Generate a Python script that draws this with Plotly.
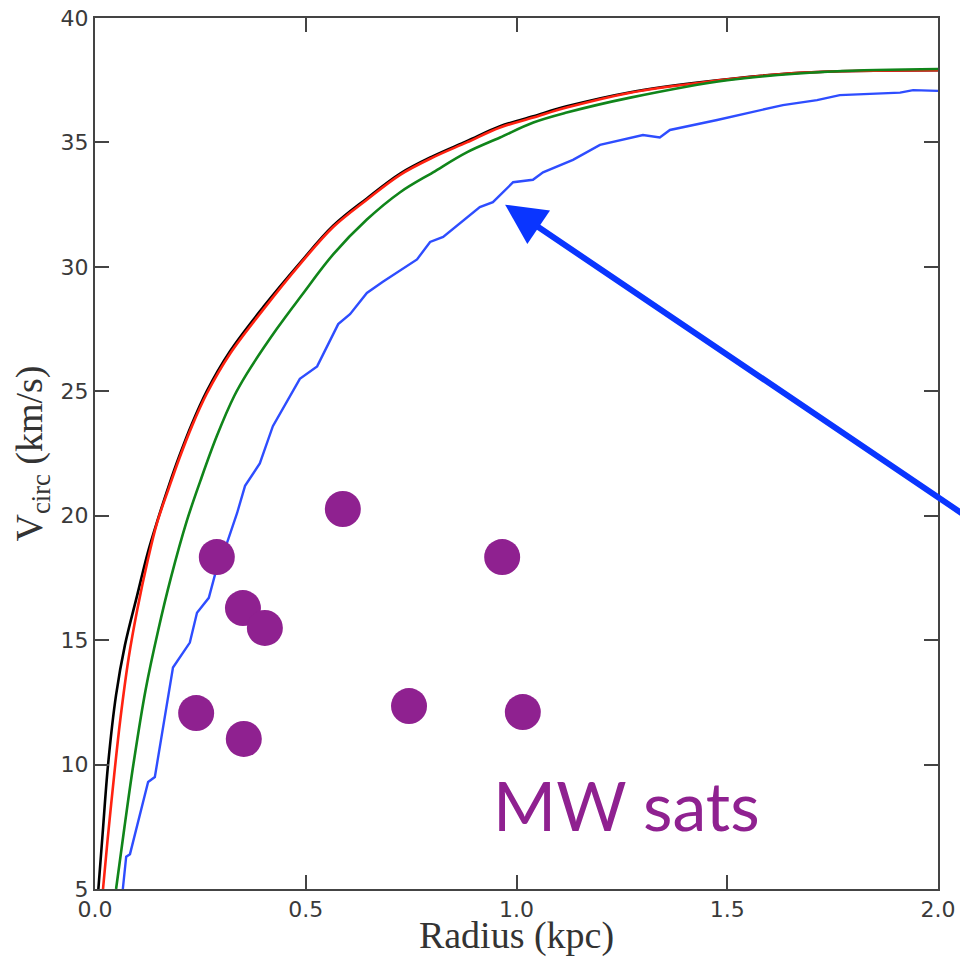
import plotly.graph_objects as go

# ---- data ----
black_r = [0.008, 0.018, 0.031, 0.05, 0.071, 0.1, 0.125, 0.15, 0.175, 0.2, 0.23, 0.265, 0.32, 0.4, 0.486,
           0.565, 0.645, 0.724, 0.802, 0.882, 0.961, 1.04, 1.119, 1.27, 1.435, 1.673, 2.0]
black_v = [5.0, 7.2, 10.0, 12.8, 14.8, 16.8, 18.5, 19.9, 21.2, 22.4, 23.7, 25.0, 26.6, 28.4, 30.15,
           31.65, 32.75, 33.75, 34.45, 35.05, 35.65, 36.05, 36.45, 37.02, 37.42, 37.8, 37.9]

red_r = [0.019, 0.03, 0.045, 0.06, 0.08, 0.1, 0.125, 0.147, 0.175, 0.2, 0.23, 0.265, 0.32, 0.4, 0.486,
         0.565, 0.645, 0.724, 0.802, 0.882, 0.961, 1.04, 1.119, 1.27, 1.435, 1.673, 2.0]
red_v = [5.0, 7.0, 9.5, 11.8, 14.3, 16.2, 18.2, 19.7, 21.1, 22.3, 23.6, 24.9, 26.5, 28.3, 30.1,
         31.6, 32.7, 33.7, 34.4, 35.0, 35.6, 36.0, 36.4, 37.0, 37.4, 37.8, 37.9]

green_r = [0.05, 0.07, 0.091, 0.12, 0.15, 0.18, 0.218, 0.25, 0.289, 0.33, 0.36, 0.431, 0.49, 0.565,
           0.645, 0.724, 0.802, 0.882, 0.961, 1.04, 1.119, 1.27, 1.5, 1.75, 2.0]
green_v = [5.0, 7.5, 10.0, 13.0, 15.4, 17.5, 19.8, 21.4, 23.2, 24.8, 25.7, 27.5, 28.85, 30.5,
           31.9, 33.0, 33.8, 34.6, 35.2, 35.8, 36.2, 36.8, 37.5, 37.85, 37.95]

blue_r = [0.066, 0.074, 0.083, 0.126, 0.142, 0.185, 0.225, 0.242, 0.27, 0.289, 0.313, 0.337, 0.356,
          0.391, 0.422, 0.486, 0.527, 0.577, 0.605, 0.645, 0.683, 0.764, 0.795, 0.826, 0.913, 0.944,
          0.992, 1.039, 1.063, 1.134, 1.198, 1.3, 1.34, 1.364, 1.476, 1.632, 1.713, 1.767, 1.91,
          1.941, 2.0]
blue_v = [5.0, 6.3, 6.4, 9.3, 9.5, 13.9, 14.9, 16.1, 16.7, 17.9, 18.9, 20.1, 21.2,
          22.1, 23.6, 25.5, 26.0, 27.7, 28.1, 28.95, 29.4, 30.3, 31.0, 31.2, 32.4, 32.6,
          33.4, 33.5, 33.8, 34.3, 34.9, 35.3, 35.2, 35.5, 35.9, 36.5, 36.7, 36.9, 37.0,
          37.1, 37.07]

sat_r = [0.289, 0.588, 0.966, 0.351, 0.403, 0.240, 0.353, 0.745, 1.015]
sat_v = [18.34, 20.27, 18.34, 16.29, 15.49, 12.07, 11.03, 12.35, 12.11]

x_ticks = [0.0, 0.5, 1.0, 1.5, 2.0]
y_ticks = [5, 10, 15, 20, 25, 30, 35, 40]

PURPLE = "#8f2190"

fig = go.Figure()
fig.add_trace(go.Scatter(x=black_r, y=black_v, mode="lines", line=dict(color="#000000", width=2.6, shape="spline"),
                         showlegend=False, hoverinfo="skip"))
fig.add_trace(go.Scatter(x=red_r, y=red_v, mode="lines", line=dict(color="#ff2211", width=2.6, shape="spline"),
                         showlegend=False, hoverinfo="skip"))
fig.add_trace(go.Scatter(x=green_r, y=green_v, mode="lines", line=dict(color="#10851a", width=2.6, shape="spline"),
                         showlegend=False, hoverinfo="skip"))
fig.add_trace(go.Scatter(x=blue_r, y=blue_v, mode="lines", line=dict(color="#2e4dff", width=2.4),
                         showlegend=False, hoverinfo="skip"))
fig.add_trace(go.Scatter(x=sat_r, y=sat_v, mode="markers",
                         marker=dict(color=PURPLE, size=36, line=dict(width=0)),
                         showlegend=False, hoverinfo="skip"))

# arrow pointing at the blue curve
fig.add_annotation(x=0.973, y=32.5, ax=2.1, ay=19.6, xref="x", yref="y", axref="x", ayref="y",
                   text="", showarrow=True, arrowhead=2, arrowsize=1.35, arrowwidth=6,
                   arrowcolor="#0a35ff", standoff=0)

fig.add_annotation(x=1.26, y=8.4, xref="x", yref="y", text="MW sats", showarrow=False,
                   font=dict(family="Lato", size=68, color=PURPLE), xanchor="center", yanchor="middle")

axis_common = dict(showline=True, linecolor="#444444", linewidth=2, mirror="ticks",
                   ticks="inside", ticklen=14, tickwidth=2, tickcolor="#444444",
                   showgrid=False, zeroline=False, automargin=False,
                   tickfont=dict(family="DejaVu Sans", size=22, color="#3a3a3a"))

fig.update_layout(
    width=960, height=957,
    margin=dict(l=95, r=22, t=18, b=68),
    paper_bgcolor="white", plot_bgcolor="white",
    xaxis=dict(range=[0, 2], tickvals=x_ticks, ticktext=[f"{v:.1f}" for v in x_ticks],
               title=dict(text="Radius (kpc)", font=dict(family="Liberation Serif", size=38, color="#333333"),
                          standoff=7),
               **axis_common),
    yaxis=dict(range=[5, 40], tickvals=y_ticks, ticktext=[str(v) for v in y_ticks],
               title=dict(text="V<sub>circ</sub> (km/s)", font=dict(family="Liberation Serif", size=38, color="#333333"),
                          standoff=6),
               **axis_common),
)

fig.write_html("out.html")
